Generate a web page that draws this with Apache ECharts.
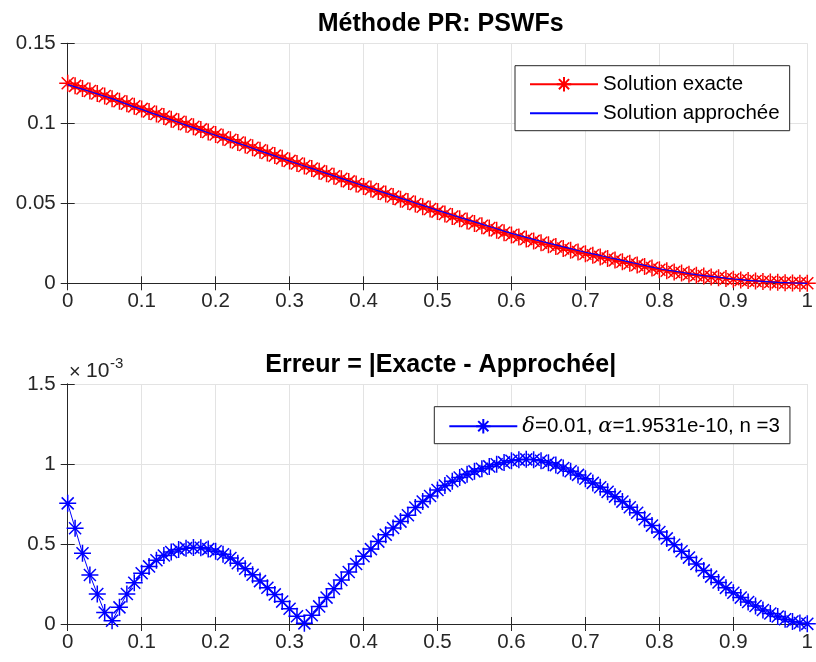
<!DOCTYPE html>
<html>
<head>
<meta charset="utf-8">
<script src="https://cdn.jsdelivr.net/npm/echarts@6/dist/echarts.min.js"></script>
<style>
html,body{margin:0;padding:0;background:#fff;}
#c{width:816px;height:662px;}
</style>
</head>
<body>
<div id="c"></div>
<script>
// ---- data ----
const xs = [0,0.01,0.02,0.03,0.04,0.05,0.06,0.07,0.08,0.09,
0.1,0.11,0.12,0.13,0.14,0.15,0.16,0.17,0.18,0.19,
0.2,0.21,0.22,0.23,0.24,0.25,0.26,0.27,0.28,0.29,
0.3,0.31,0.32,0.33,0.34,0.35,0.36,0.37,0.38,0.39,
0.4,0.41,0.42,0.43,0.44,0.45,0.46,0.47,0.48,0.49,
0.5,0.51,0.52,0.53,0.54,0.55,0.56,0.57,0.58,0.59,
0.6,0.61,0.62,0.63,0.64,0.65,0.66,0.67,0.68,0.69,
0.7,0.71,0.72,0.73,0.74,0.75,0.76,0.77,0.78,0.79,
0.8,0.81,0.82,0.83,0.84,0.85,0.86,0.87,0.88,0.89,
0.9,0.91,0.92,0.93,0.94,0.95,0.96,0.97,0.98,0.99,1];

const exacte = [0.1250,0.1234,0.1218,0.1202,0.1186,0.1170,0.1154,0.1138,0.1122,0.1106,
0.1090,0.1074,0.1058,0.1042,0.1026,0.1010,0.0994,0.0978,0.0962,0.0946,
0.0930,0.0913,0.0897,0.0880,0.0864,0.0847,0.0831,0.0814,0.0798,0.0781,
0.0765,0.0749,0.0733,0.0717,0.0701,0.0685,0.0669,0.0653,0.0637,0.0621,
0.0605,0.0589,0.0573,0.0558,0.0542,0.0526,0.0511,0.0495,0.0479,0.0464,
0.0448,0.0433,0.0418,0.0403,0.0389,0.0374,0.0360,0.0345,0.0331,0.0316,
0.0302,0.0290,0.0277,0.0265,0.0253,0.0241,0.0230,0.0218,0.0207,0.0196,
0.0185,0.0175,0.0165,0.0155,0.0145,0.0135,0.0125,0.0115,0.0105,0.0095,
0.0085,0.0078,0.0071,0.0064,0.0057,0.0050,0.0045,0.0040,0.0035,0.0030,
0.0025,0.0021,0.0017,0.0014,0.0011,0.0008,0.0006,0.0004,0.0002,0.0001,0.0000];

const approchee = [0.1242,0.1228,0.1214,0.1199,0.1184,0.1169,0.1154,0.1137,0.1120,0.1103,
0.1087,0.1070,0.1054,0.1038,0.1022,0.1005,0.0989,0.0973,0.0957,0.0941,
0.0925,0.0909,0.0893,0.0876,0.0861,0.0844,0.0828,0.0812,0.0796,0.0780,
0.0764,0.0749,0.0733,0.0718,0.0702,0.0687,0.0671,0.0656,0.0640,0.0625,
0.0609,0.0594,0.0578,0.0564,0.0548,0.0532,0.0518,0.0502,0.0487,0.0472,
0.0456,0.0442,0.0427,0.0412,0.0398,0.0384,0.0370,0.0355,0.0341,0.0326,
0.0312,0.0300,0.0287,0.0275,0.0263,0.0251,0.0240,0.0228,0.0217,0.0205,
0.0194,0.0184,0.0174,0.0163,0.0153,0.0143,0.0132,0.0122,0.0112,0.0101,
0.0091,0.0083,0.0076,0.0069,0.0061,0.0054,0.0048,0.0043,0.0038,0.0032,
0.0027,0.0023,0.0018,0.0015,0.0012,0.0009,0.0006,0.0004,0.0002,0.0001,0.0000];

// error in units of 1e-3
const erreurE3 = [0.754,0.598,0.442,0.306,0.188,0.072,0.020,0.104,0.188,0.258,
0.317,0.360,0.398,0.428,0.450,0.465,0.474,0.478,0.476,0.468,
0.455,0.436,0.412,0.380,0.345,0.308,0.268,0.227,0.185,0.140,
0.095,0.048,0.004,0.055,0.110,0.165,0.220,0.275,0.325,0.375,
0.423,0.468,0.515,0.558,0.600,0.640,0.680,0.728,0.765,0.800,
0.838,0.865,0.892,0.915,0.936,0.954,0.970,0.985,0.998,1.010,
1.020,1.026,1.029,1.027,1.020,1.008,0.993,0.975,0.955,0.932,
0.908,0.882,0.855,0.826,0.796,0.765,0.730,0.695,0.655,0.615,
0.575,0.535,0.495,0.455,0.415,0.375,0.335,0.296,0.260,0.226,
0.195,0.165,0.138,0.112,0.088,0.066,0.047,0.030,0.016,0.006,0.001];

const titleTop = 'Méthode PR: PSWFs';
const titleBottom = 'Erreur = |Exacte - Approchée|';
const legendTop = ['Solution exacte', 'Solution approchée'];

// ---- chart ----
const FONT = '"Liberation Sans", Arial, Helvetica, sans-serif';
const AX = '#262626';
const GRIDC = '#e3e3e3';
const STAR = 'path://M0,-1L0,1M-1,0L1,0M-0.7071,-0.7071L0.7071,0.7071M-0.7071,0.7071L0.7071,-0.7071';

function pair(d1, d2) { return d1.map((v, i) => [v, d2[i]]); }

function xAx(gi, pos) {
  const main = pos === 'bottom';
  return {
    type: 'value', gridIndex: gi, position: pos, min: 0, max: 1, interval: 0.1,
    axisLine: { show: true, lineStyle: { color: AX, width: 1 } },
    axisTick: { show: true, inside: true, length: 7, lineStyle: { color: AX } },
    axisLabel: { show: main, color: AX, fontSize: 20.5, fontFamily: FONT, margin: 8 },
    splitLine: { show: main, lineStyle: { color: GRIDC, width: 1 } }
  };
}
function yAx(gi, pos, max, interval) {
  const main = pos === 'left';
  return {
    type: 'value', gridIndex: gi, position: pos, min: 0, max: max, interval: interval,
    axisLine: { show: true, lineStyle: { color: AX, width: 1 } },
    axisTick: { show: true, inside: true, length: 7, lineStyle: { color: AX } },
    axisLabel: { show: main, color: AX, fontSize: 20.5, fontFamily: FONT, margin: 12 },
    splitLine: { show: main, lineStyle: { color: GRIDC, width: 1 } }
  };
}

const chart = echarts.init(document.getElementById('c'), null, { renderer: 'canvas' });
const option = {
  animation: false,
  backgroundColor: '#ffffff',
  grid: [
    { left: 67.7, right: 2.3, top: 43.3, height: 240, containLabel: false },
    { left: 67.7, right: 2.3, top: 384, height: 240, containLabel: false }
  ],
  xAxis: [xAx(0, 'bottom'), xAx(0, 'top'), xAx(1, 'bottom'), xAx(1, 'top')],
  yAxis: [yAx(0, 'left', 0.15, 0.05), yAx(0, 'right', 0.15, 0.05),
          yAx(1, 'left', 1.5, 0.5), yAx(1, 'right', 1.5, 0.5)],
  legend: [
    {
      data: [
        { name: legendTop[0] },
        { name: legendTop[1], itemStyle: { opacity: 0 } }
      ],
      orient: 'vertical', left: 515, top: 65.7,
      itemWidth: 68, itemHeight: 18, itemGap: 8,
      padding: [8, 10, 7, 14],
      borderColor: AX, borderWidth: 1, backgroundColor: '#ffffff', borderRadius: 0,
      textStyle: { color: '#000', fontSize: 20.5, fontFamily: FONT },
      selectedMode: false
    },
    {
      data: ['err'], orient: 'vertical', left: 434.3, top: 406.7,
      itemWidth: 68, itemHeight: 18,
      padding: [9, 10, 7, 14],
      borderColor: AX, borderWidth: 1, backgroundColor: '#ffffff', borderRadius: 0,
      formatter: function () { return '{i|δ}=0.01, {i|α}=1.9531e-10, n =3'; },
      textStyle: {
        color: '#000', fontSize: 20.5, fontFamily: FONT,
        rich: { i: { fontSize: 21, fontStyle: 'italic', fontFamily: '"DejaVu Serif", "Liberation Serif", serif', color: '#000' } }
      },
      selectedMode: false
    }
  ],
  series: [
    {
      name: legendTop[0], type: 'line', xAxisIndex: 0, yAxisIndex: 0,
      data: pair(xs, exacte),
      symbol: STAR, symbolSize: 17, showAllSymbol: true, symbolKeepAspect: true,
      lineStyle: { color: '#ff0000', width: 1 },
      itemStyle: { color: '#ff0000', borderColor: '#ff0000', borderWidth: 1.5 },
      z: 2
    },
    {
      name: legendTop[1], type: 'line', xAxisIndex: 0, yAxisIndex: 0,
      data: pair(xs, approchee),
      symbol: 'none',
      lineStyle: { color: '#0000ff', width: 1.2 },
      itemStyle: { color: '#0000ff' },
      z: 3
    },
    {
      name: 'err', type: 'line', xAxisIndex: 2, yAxisIndex: 2,
      data: pair(xs, erreurE3),
      symbol: STAR, symbolSize: 17, showAllSymbol: true, symbolKeepAspect: true,
      lineStyle: { color: '#0000ff', width: 1 },
      itemStyle: { color: '#0000ff', borderColor: '#0000ff', borderWidth: 1.5 },
      clip: false,
      z: 2
    }
  ],
  graphic: [
    { type: 'text', x: 440.7, y: 37, style: { text: titleTop, fill: '#000', font: 'bold 25px ' + FONT, align: 'center', verticalAlign: 'bottom' } },
    { type: 'text', x: 440.7, y: 377.5, style: { text: titleBottom, fill: '#000', font: 'bold 25px ' + FONT, align: 'center', verticalAlign: 'bottom' } },
    { type: 'text', x: 69, y: 382, style: { text: '×', fill: AX, font: '20px ' + FONT, align: 'left', verticalAlign: 'bottom' } },
    { type: 'text', x: 86, y: 382, style: { text: '10', fill: AX, font: '21px ' + FONT, align: 'left', verticalAlign: 'bottom' } },
    { type: 'text', x: 110, y: 371, style: { text: '-3', fill: AX, font: '15px ' + FONT, align: 'left', verticalAlign: 'bottom' } }
  ]
};
chart.setOption(option);
</script>
</body>
</html>
